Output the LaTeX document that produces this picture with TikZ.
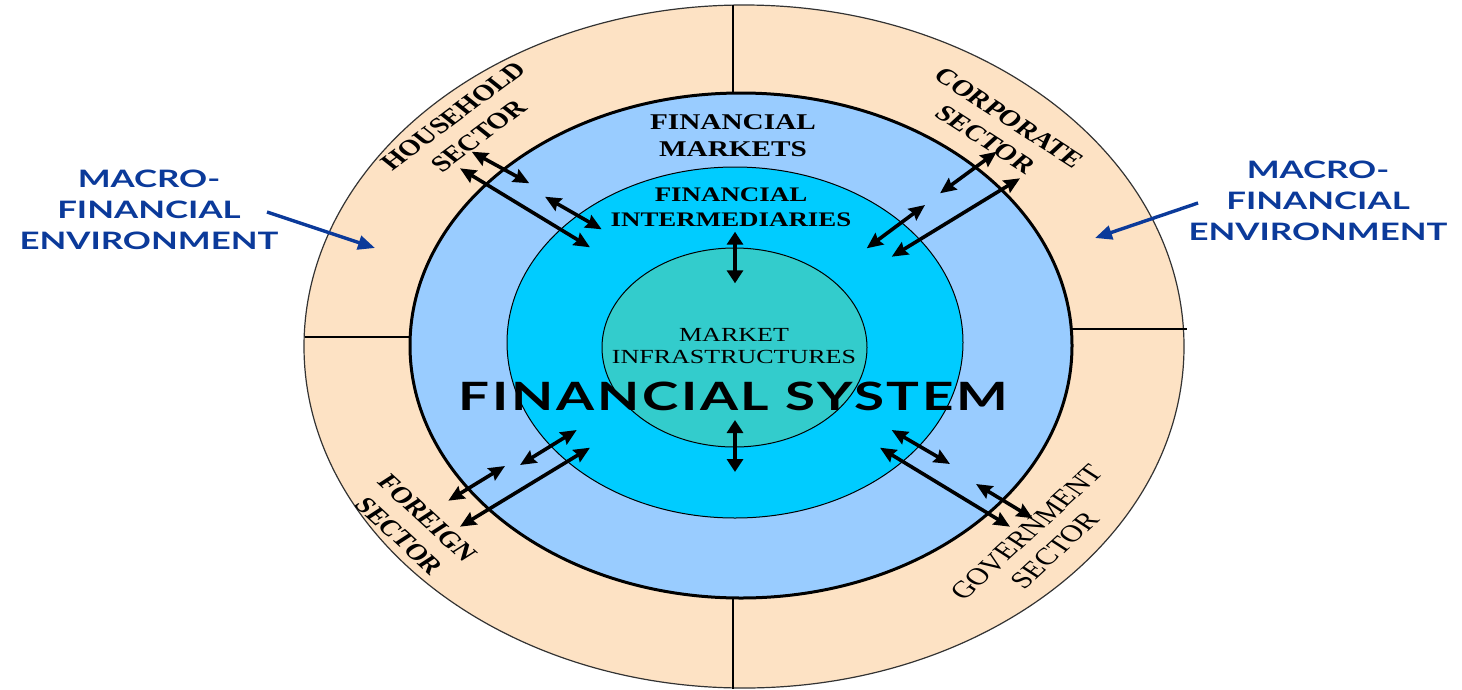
\documentclass[tikz,border=0pt]{standalone}
\usepackage{fontspec}
\setmainfont{Liberation Serif}
\newfontfamily\gillfont{Lato}
\usetikzlibrary{arrows.meta}

\definecolor{ringpeach}{HTML}{FDE2C4}
\definecolor{marketblue}{HTML}{99CCFF}
\definecolor{intercyan}{HTML}{00CCFF}
\definecolor{infrateal}{HTML}{33CCCC}
\definecolor{envblue}{HTML}{0B3A9A}

\tikzset{
  stretch/.style={xscale=1.3, inner sep=0pt, align=center},
  ringlabel/.style={stretch, font=\fontsize{22.5}{28}\selectfont\bfseries},
  envlabel/.style={inner sep=0pt, align=center, xscale=1.45, text=envblue, font=\fontsize{24}{31}\selectfont\gillfont\bfseries},
  dblarrow/.style={line width=3.6pt, {Stealth[length=16pt,width=14pt,inset=2pt]}-{Stealth[length=16pt,width=14pt,inset=2pt]}},
  bigarrow/.style={line width=4.4pt, {Triangle[length=13pt,width=16pt]}-{Triangle[length=13pt,width=16pt]}},
  envarrow/.style={envblue, line width=3.4pt, -{Triangle[length=17pt,width=14pt]}},
  divider/.style={line width=2.5pt}
}

\begin{document}
\begin{tikzpicture}[x=1pt, y=-1pt]
  \useasboundingbox (0,0) rectangle (1462,689);

  % Rings:
  \draw[line width=1.2pt, draw=black!80, fill=ringpeach] (744,346.5) ellipse [x radius=440, y radius=341.5];
  \draw[line width=3pt, fill=marketblue] (741,345.5) ellipse [x radius=331, y radius=252.5];
  \draw[line width=1pt, fill=intercyan] (735,342.5) ellipse [x radius=228, y radius=175.5];
  \draw[line width=1pt, fill=infrateal] (734.5,347.5) ellipse [x radius=132.5, y radius=99.5];

  % Sector borders:
  \draw[divider] (733,5) -- (733,93);
  \draw[divider] (733,598) -- (733,689);
  \draw[divider] (305,337) -- (410,337);
  \draw[divider] (1072,329) -- (1187,329);

  % Ring labels:
  \node[stretch, font=\fontsize{22.5}{27}\selectfont\bfseries] (markets) at (733,136) {FINANCIAL\\MARKETS};
  \node[stretch, font=\fontsize{20.7}{25}\selectfont\bfseries] (interm) at (731,207) {FINANCIAL\\INTERMEDIARIES};
  \node[stretch, font=\fontsize{20}{22}\selectfont] (infra) at (734,346) {MARKET\\INFRASTRUCTURES};
  \node[stretch, xscale=1.08, font=\fontsize{39}{39}\selectfont\gillfont\bfseries\addfontfeatures{LetterSpace=5}] (system) at (733.5,396) {FINANCIAL SYSTEM};

  % Sector labels:
  \node[ringlabel, rotate=44] (household) at (466,126) {HOUSEHOLD\\SECTOR};
  \node[ringlabel, rotate=-40] (corporate) at (997.4,128.7) {CORPORATE\\SECTOR};
  \node[ringlabel, rotate=-50] (foreign) at (413.3,527) {FOREIGN\\SECTOR};
  \node[ringlabel, font=\fontsize{24}{28}\selectfont, rotate=50] (government) at (1040.8,541.3) {GOVERNMENT\\SECTOR};

  % Environment labels:
  \node[envlabel] (envleft) at (149,209.5) {MACRO-\\FINANCIAL\\ENVIRONMENT};
  \node[envlabel] (envright) at (1318,201) {MACRO-\\FINANCIAL\\ENVIRONMENT};

  % Arrow ends:
  \foreach \cname/\cx/\cy in {hs1a/471.7/151.7, hs1b/529.3/183.3, hs2a/460/168.3, hs2b/590/247.3,
      hs3a/545/196.7, hs3b/601.7/229.3, cs1a/996.7/151.7, cs1b/940/193.3, cs2a/925/205,
      cs2b/866.7/248.3, cs3a/1020/178.3, cs3b/891.7/256.7, fs1a/505/466, fs1b/448.3/500.7,
      fs2a/576.7/430, fs2b/520/465, fs3a/590/447.7, fs3b/460/526.7, gs1a/891.7/430,
      gs1b/950/464, gs2a/880/447.7, gs2b/1010/526.7, gs3a/976/484, gs3b/1032.7/518.3,
      upa/735/231.7, upb/735/283.3, dna/735/420, dnb/735/472,
      ela/267/212, elb/375/248, era/1198/203, erb/1095/238}
    \coordinate (\cname) at (\cx,\cy);

  % Flows between sectors and system:
  \foreach \from/\to in {hs1a/hs1b, hs2a/hs2b, hs3a/hs3b, cs1a/cs1b, cs2a/cs2b, cs3a/cs3b,
      fs1a/fs1b, fs2a/fs2b, fs3a/fs3b, gs1a/gs1b, gs2a/gs2b, gs3a/gs3b}
    \draw[dblarrow] (\from) -- (\to);
  \draw[bigarrow] (upa) -- (upb);
  \draw[bigarrow] (dna) -- (dnb);

  % Environment arrows:
  \draw[envarrow] (ela) -- (elb);
  \draw[envarrow] (era) -- (erb);
\end{tikzpicture}
\end{document}
